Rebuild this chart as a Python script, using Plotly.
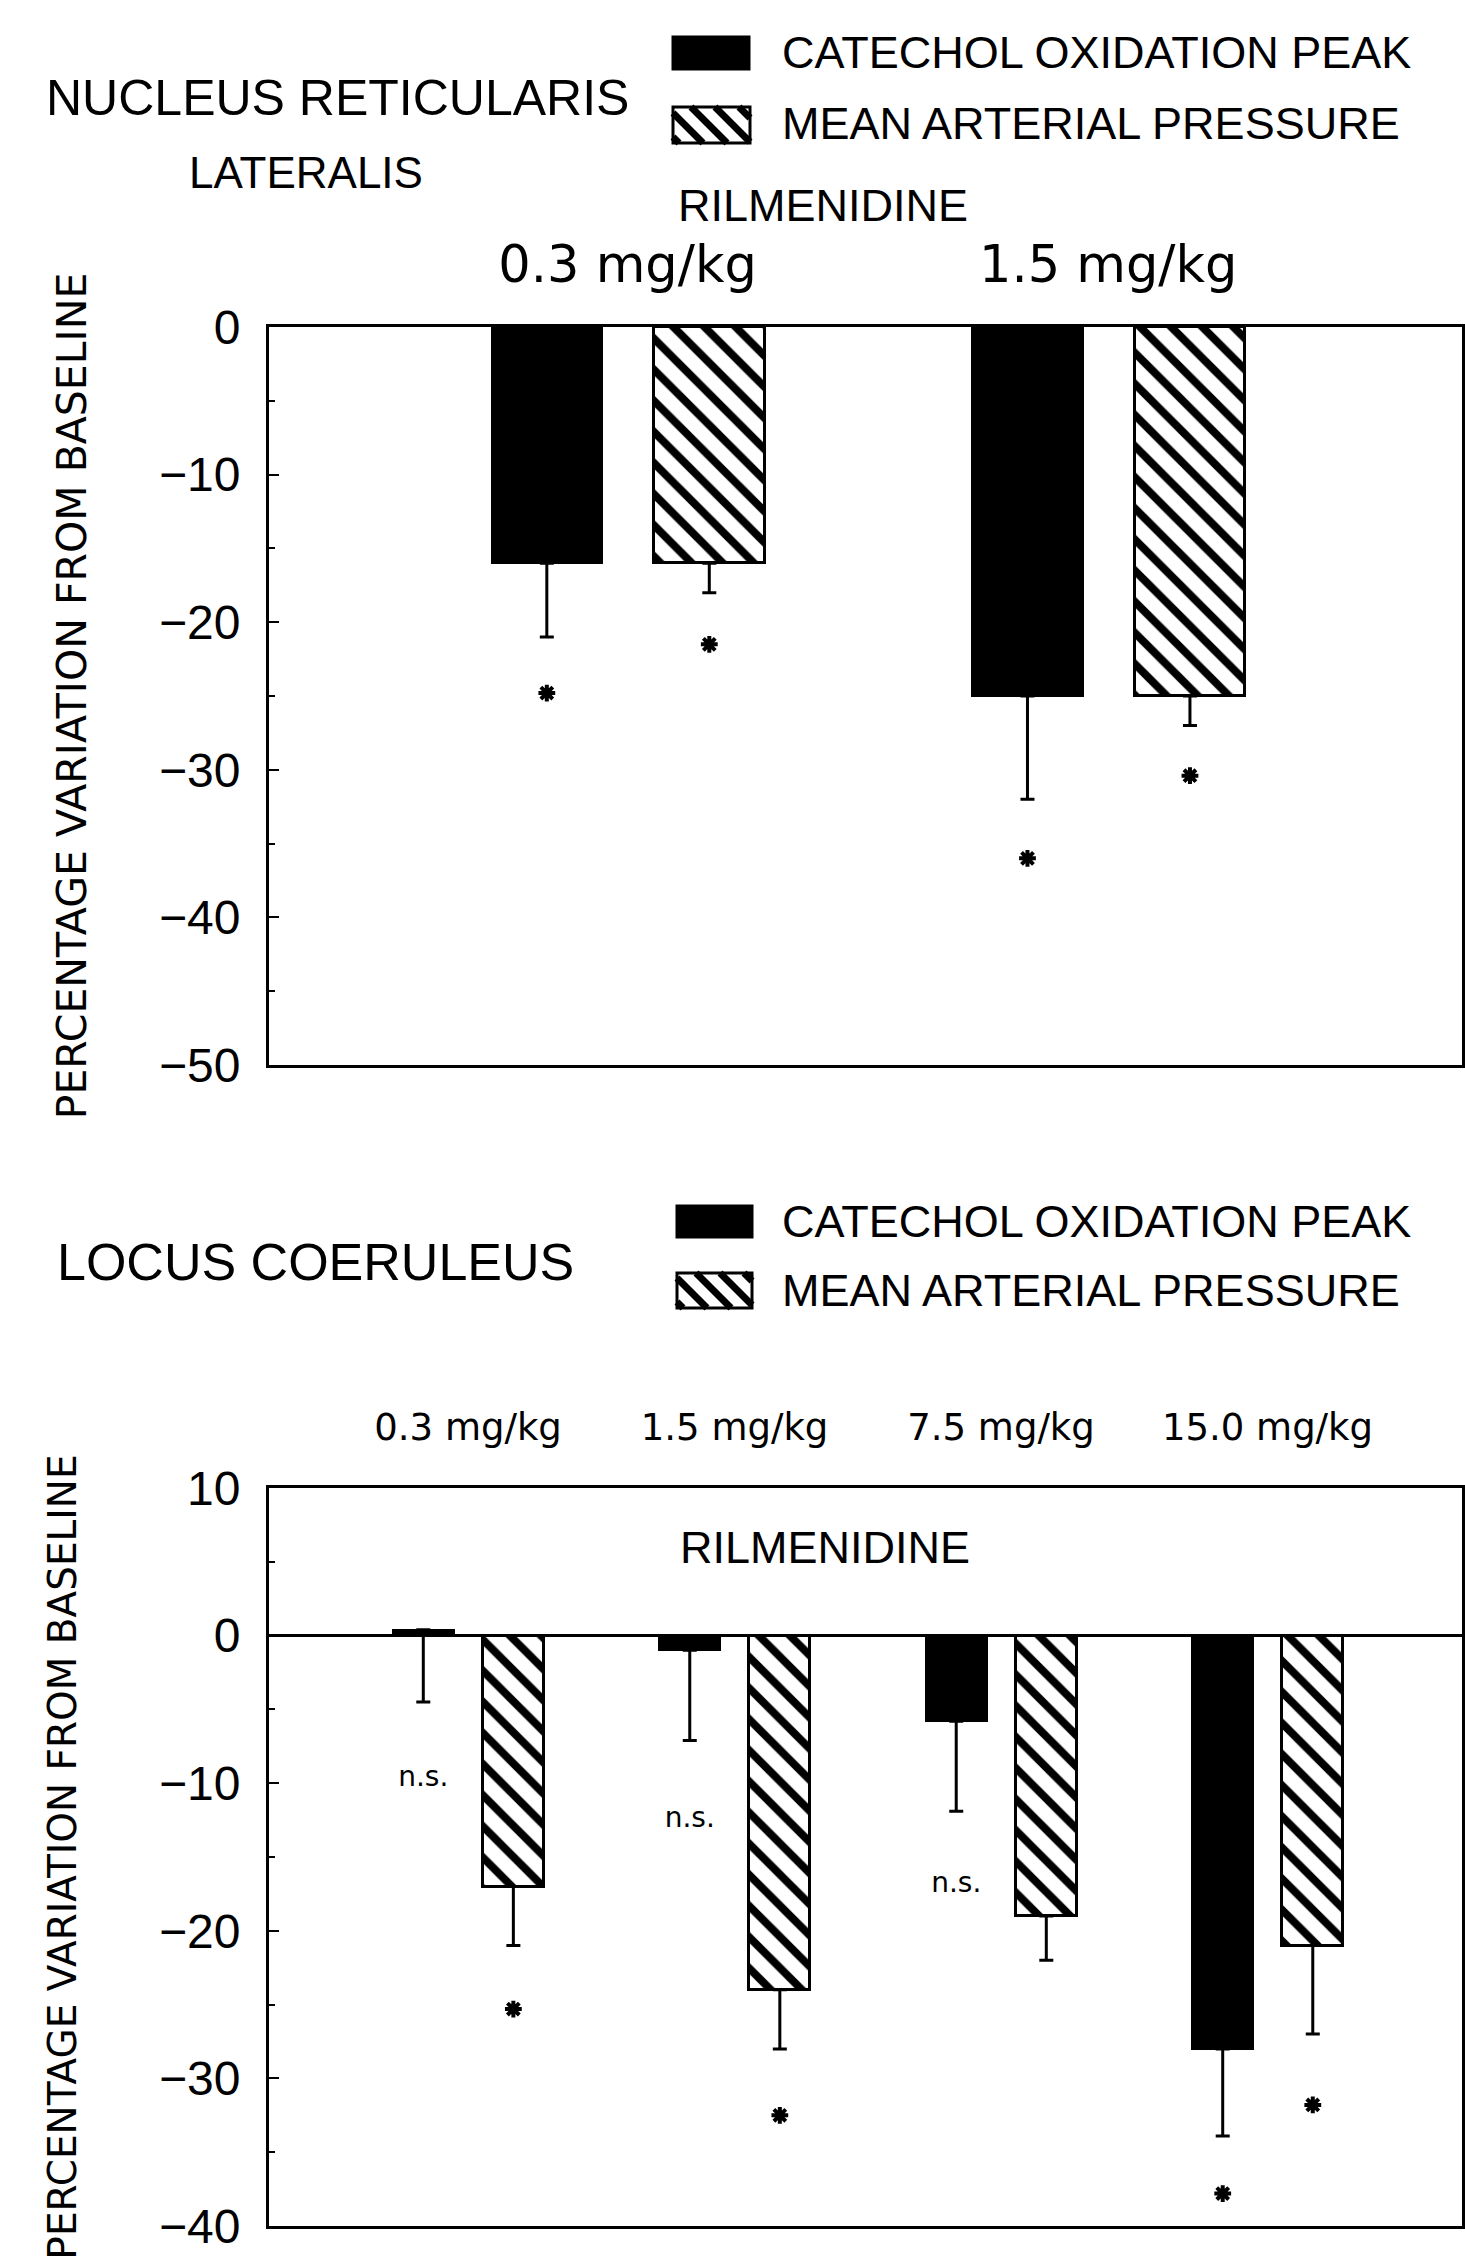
import plotly.graph_objects as go

W, H = 1465, 2267

# ---------------- data ----------------
series_names = ["CATECHOL OXIDATION PEAK", "MEAN ARTERIAL PRESSURE"]

# Nucleus reticularis lateralis
nrl_doses = ["0.3 mg/kg", "1.5 mg/kg"]
nrl_catechol = [-16, -25]
nrl_catechol_err = [5, 7]
nrl_map = [-16, -25]
nrl_map_err = [2, 2]
nrl_catechol_star = [-24.8, -36]
nrl_map_star = [-21.5, -30.4]

# Locus coeruleus
lc_doses = ["0.3 mg/kg", "1.5 mg/kg", "7.5 mg/kg", "15.0 mg/kg"]
lc_catechol = [0.4, -1.0, -5.8, -28]
lc_catechol_err = [4.9, 6.1, 6.1, 5.9]
lc_map = [-17, -24, -19, -21]
lc_map_err = [4, 4, 3, 6]
lc_catechol_star = [None, None, None, -37.8]
lc_catechol_ns = [-9.7, -12.5, -16.9, None]
lc_map_star = [-25.3, -32.5, None, -31.8]

y_ticks_top = [0, -10, -20, -30, -40, -50]
y_ticks_bottom = [10, 0, -10, -20, -30, -40]

# ---------------- style ----------------
MAIN = "Liberation Sans, Arial, Helvetica, sans-serif"
WIDE = "DejaVu Sans, Verdana, sans-serif"
BW = 0.23
OFF_BLACK = -0.283
OFF_HATCH = 0.055


def px(x):
    return x / W


def py(y):
    return 1 - y / H


fig = go.Figure()


def add_panel(doses, cat, cat_err, mp, mp_err, cat_star, mp_star, xa, ya, cat_ns=None):
    g = list(range(len(doses)))
    fig.add_trace(go.Bar(
        x=g, y=cat, name=series_names[0], width=BW, offset=OFF_BLACK,
        marker=dict(color="black", line=dict(color="black", width=2)),
        error_y=dict(type="data", symmetric=False, array=[0] * len(g), arrayminus=cat_err,
                     color="black", thickness=3, width=7),
        xaxis=xa, yaxis=ya, showlegend=False))
    fig.add_trace(go.Bar(
        x=g, y=mp, name=series_names[1], width=BW, offset=OFF_HATCH,
        marker=dict(color="white", line=dict(color="black", width=3),
                    pattern=dict(shape="\\", fgcolor="black", bgcolor="white",
                                 fgopacity=1, size=22, solidity=0.36)),
        error_y=dict(type="data", symmetric=False, array=[0] * len(g), arrayminus=mp_err,
                     color="black", thickness=3, width=7),
        xaxis=xa, yaxis=ya, showlegend=False))
    cb = OFF_BLACK + BW / 2
    ch = OFF_HATCH + BW / 2
    sx, sy = [], []
    for i in g:
        if cat_star[i] is not None:
            sx.append(i + cb); sy.append(cat_star[i])
        if mp_star[i] is not None:
            sx.append(i + ch); sy.append(mp_star[i])
    fig.add_trace(go.Scatter(
        x=sx, y=sy, mode="markers", showlegend=False, xaxis=xa, yaxis=ya,
        marker=dict(symbol="asterisk-open", size=14, color="black",
                    line=dict(color="black", width=4)), hoverinfo="skip"))
    if cat_ns is not None:
        nx, ny = [], []
        for i in g:
            if cat_ns[i] is not None:
                nx.append(i + cb); ny.append(cat_ns[i])
        fig.add_trace(go.Scatter(
            x=nx, y=ny, mode="text", text=["n.s."] * len(nx), showlegend=False,
            textfont=dict(family=WIDE, size=28, color="black"),
            xaxis=xa, yaxis=ya, hoverinfo="skip"))


add_panel(nrl_doses, nrl_catechol, nrl_catechol_err, nrl_map, nrl_map_err,
          nrl_catechol_star, nrl_map_star, "x", "y")
add_panel(lc_doses, lc_catechol, lc_catechol_err, lc_map, lc_map_err,
          lc_catechol_star, lc_map_star, "x2", "y2", cat_ns=lc_catechol_ns)

xdom = [px(269), px(1462)]
axis_common = dict(showline=True, linecolor="black", linewidth=3, mirror=True,
                   showgrid=False, zeroline=False, automargin=False)

fig.update_layout(
    width=W, height=H,
    margin=dict(l=0, r=0, t=0, b=0, pad=0, autoexpand=False),
    paper_bgcolor="white", plot_bgcolor="white",
    font=dict(family=MAIN, color="black"),
    bargap=0,
    xaxis=dict(domain=xdom, anchor="y", side="top", range=[-0.746, 1.736],
               tickmode="array", tickvals=list(range(len(nrl_doses))), ticktext=nrl_doses,
               ticks="", ticklabelstandoff=22,
               tickfont=dict(family=WIDE, size=51), **axis_common),
    yaxis=dict(domain=[py(1065), py(327)], anchor="x", range=[-50, 0],
               tickmode="array", tickvals=y_ticks_top,
               ticks="inside", ticklen=10, tickwidth=2, tickcolor="black",
               minor=dict(ticks="inside", ticklen=6, tickwidth=2, dtick=5, tickcolor="black"),
               tickfont=dict(family=MAIN, size=48), ticklabelstandoff=16,
               title=dict(text="PERCENTAGE VARIATION FROM BASELINE",
                          font=dict(family=WIDE, size=41), standoff=60),
               **axis_common),
    xaxis2=dict(domain=xdom, anchor="y2", side="top", range=[-0.747, 3.73],
                tickmode="array", tickvals=list(range(len(lc_doses))), ticktext=lc_doses,
                ticks="", ticklabelstandoff=30,
                tickfont=dict(family=WIDE, size=37), **axis_common),
    yaxis2=dict(domain=[py(2226), py(1488)], anchor="x2", range=[-40, 10],
                tickmode="array", tickvals=y_ticks_bottom,
                ticks="inside", ticklen=10, tickwidth=2, tickcolor="black",
                minor=dict(ticks="inside", ticklen=6, tickwidth=2, dtick=5, tickcolor="black"),
                tickfont=dict(family=MAIN, size=48), ticklabelstandoff=16,
                title=dict(text="PERCENTAGE VARIATION FROM BASELINE",
                           font=dict(family=WIDE, size=39), standoff=71),
                showline=True, linecolor="black", linewidth=3, mirror=True,
                showgrid=False, zeroline=True, zerolinecolor="black", zerolinewidth=3,
                automargin=False),
)

annotations = []
shapes = []


def text(t, x, y, size, family=MAIN):
    annotations.append(dict(text=t, x=px(x), y=py(y), xref="paper", yref="paper",
                            xanchor="left", yanchor="middle", showarrow=False,
                            font=dict(family=family, size=size, color="black")))


def swatch(x0, y0, x1, y1, hatched):
    shapes.append(dict(type="rect", xref="paper", yref="paper",
                       x0=px(x0), x1=px(x1), y0=py(y1), y1=py(y0),
                       fillcolor="white" if hatched else "black",
                       line=dict(color="black", width=3)))
    if hatched:
        w, h, s = x1 - x0, y1 - y0, 24
        path = ""
        c = -h + 6
        while c < w:
            t0 = max(0, -c)
            t1 = min(h, w - c)
            if t1 > t0:
                ax, ay = x0 + c + t0, y0 + t0
                bx, by = x0 + c + t1, y0 + t1
                path += f"M{px(ax)},{py(ay)} L{px(bx)},{py(by)} "
            c += s
        shapes.append(dict(type="path", xref="paper", yref="paper", path=path,
                           line=dict(color="black", width=7)))


# top panel labels
text("NUCLEUS RETICULARIS", 44, 98, 50)
text("LATERALIS", 187, 172, 44)
swatch(673, 37, 749, 69, False)
swatch(673, 107, 750, 143, True)
text(series_names[0], 780, 53, 45)
text(series_names[1], 780, 124, 45)
text("RILMENIDINE", 676, 205, 45)

# bottom panel labels
text("LOCUS COERULEUS", 55, 1262, 52)
swatch(677, 1206, 752, 1237, False)
swatch(677, 1273, 752, 1308, True)
text(series_names[0], 780, 1221, 45)
text(series_names[1], 780, 1291, 45)
text("RILMENIDINE", 678, 1547, 45)

fig.update_layout(annotations=annotations, shapes=shapes)

fig.write_html("out.html", config={"displayModeBar": False},
               post_script="document.body.style.margin='0';document.body.style.overflow='hidden';")
